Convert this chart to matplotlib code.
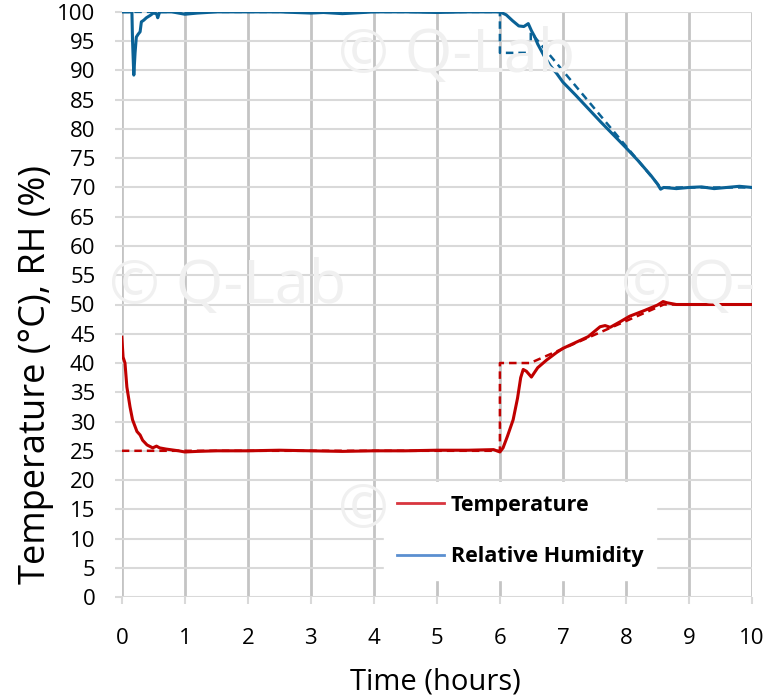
import matplotlib.pyplot as plt
from matplotlib.lines import Line2D

plt.rcParams['font.family'] = ['Open Sans', 'DejaVu Sans']

# measured relative humidity (%)
hum_t = [0, 0.16, 0.17, 0.19, 0.21, 0.23, 0.26, 0.29, 0.31, 0.35, 0.39, 0.45, 0.5, 0.55, 0.57, 0.6,
         0.8, 1.0, 1.2, 1.5, 2.0, 2.5, 3.0, 3.2, 3.5, 4.0, 4.5, 5.0, 5.5, 5.9, 6.0, 6.1, 6.2, 6.3,
         6.38, 6.45, 6.5, 6.55, 6.6, 6.7, 6.8, 6.9, 7.0, 7.2, 7.4, 7.6, 7.8, 8.0, 8.2, 8.4, 8.5,
         8.55, 8.6, 8.8, 9.0, 9.2, 9.4, 9.6, 9.8, 10]
hum = [100, 100, 95, 89.2, 93, 95.7, 96.2, 96.6, 98.3, 98.6, 99, 99.4, 99.8, 99.7, 99, 100,
       100, 99.6, 99.8, 100, 100, 100, 99.8, 99.9, 99.7, 100, 100, 99.9, 100, 100, 100, 99.5, 98.5, 97.6,
       97.5, 98.0, 96.8, 95.8, 94.5, 92.5, 90.8, 89.5, 88, 85.8, 83.5, 81.2, 79, 76.8, 74.5, 72, 70.6,
       69.7, 70, 69.8, 70, 70.1, 69.8, 70, 70.2, 70]

# measured temperature (°C)
temp_t = [0, 0.02, 0.05, 0.08, 0.13, 0.17, 0.24, 0.29, 0.33, 0.4, 0.49, 0.55, 0.6, 0.7, 0.9, 1.0,
          1.2, 1.5, 2, 2.5, 3, 3.5, 4, 4.5, 5, 5.5, 5.9, 6.0, 6.05, 6.12, 6.21, 6.28, 6.33, 6.37,
          6.42, 6.5, 6.6, 6.74, 6.9, 7.0, 7.2, 7.4, 7.59, 7.67, 7.75, 7.9, 8.06, 8.3, 8.5, 8.59,
          8.65, 8.8, 9, 9.5, 10]
temp = [44.4, 41, 40, 35.9, 32.5, 30.3, 28.3, 27.7, 26.8, 26, 25.5, 25.8, 25.5, 25.3, 25, 24.8,
        24.9, 25, 25, 25.1, 25, 24.9, 25, 25, 25.1, 25.1, 25.2, 24.8, 25.5, 27.5, 30.3, 34, 37.5, 38.9,
        38.6, 37.6, 39.2, 40.5, 41.8, 42.5, 43.5, 44.5, 46.2, 46.4, 46.1, 47, 48, 49, 49.9, 50.5,
        50.3, 50, 50, 50, 50]

# set points
temp_sp_t = [0, 6, 6, 6.48, 8.6, 10]
temp_sp = [25, 25, 40, 40, 50, 50]
hum_sp_t = [0, 6, 6, 6.49, 6.49, 8.55, 10]
hum_sp = [100, 100, 93, 93, 96.5, 70, 70]

red = '#c00000'
blue = '#0a6296'

fig = plt.figure(figsize=(7.76, 7.0), dpi=100)
ax = fig.add_axes([0.157, 0.147, 0.812, 0.836])

# faint watermark
for x, y, s in [(0.435, 0.92, '\u00a9 Q-Lab'), (0.14, 0.59, '\u00a9 Q-Lab'),
                (0.8, 0.59, '\u00a9 Q-'), (0.435, 0.27, '\u00a9')]:
    fig.text(x, y, s, fontsize=44, color='#f0f0f0', zorder=0, va='center', ha='left')
ax.patch.set_alpha(0)

ax.plot(hum_sp_t, hum_sp, color=blue, lw=1.8, ls=(0, (3, 2)), zorder=3)
ax.plot(temp_sp_t, temp_sp, color=red, lw=1.8, ls=(0, (3, 2)), zorder=3)
ax.plot(hum_t, hum, color=blue, lw=2.2, zorder=4)
ax.plot(temp_t, temp, color=red, lw=2.2, zorder=4)

ax.set_xlim(0, 10)
ax.set_ylim(0, 100)
ax.set_xticks(range(0, 11))
ax.set_yticks(range(0, 101, 5))
ax.grid(axis='y', color='#d9d9d9', lw=1.5)
ax.grid(axis='x', color='#c4c4c4', lw=2)
ax.set_axisbelow(True)
for sp in ax.spines.values():
    sp.set_visible(False)
ax.tick_params(length=5, width=1.5, color='#d9d9d9', labelsize=16)
ax.tick_params(axis='x', pad=17)
ax.tick_params(axis='y', pad=14)
ax.set_xlabel('Time (hours)', fontsize=21)
ax.xaxis.set_label_coords(0.498, -0.12)
ax.set_ylabel('Temperature (\u00b0C), RH (%)', fontsize=26)
ax.yaxis.set_label_coords(-0.108, 0.381)

handles = [Line2D([], [], color='#d8363f', lw=2), Line2D([], [], color='#5b8fd0', lw=2)]
leg = ax.legend(handles, ['Temperature', 'Relative Humidity'], loc='center',
                bbox_to_anchor=(0.632, 0.113), borderaxespad=0, frameon=True, fancybox=False,
                edgecolor='white', framealpha=1, prop={'weight': 'bold', 'size': 15.5},
                handlelength=2.2, handletextpad=0.3, labelspacing=1.4, borderpad=0.6)
leg.set_zorder(5)

fig.savefig('out.png', dpi=100)
